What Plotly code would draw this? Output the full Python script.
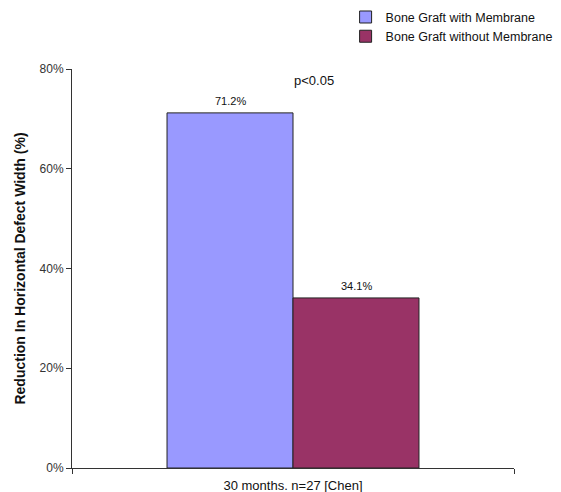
import plotly.graph_objects as go

categories = ["30 months. n=27 [Chen]"]
series_names = ["Bone Graft with Membrane", "Bone Graft without Membrane"]
with_membrane = [71.2]
without_membrane = [34.1]
tick_vals = [0, 20, 40, 60, 80]
tick_text = ["0%", "20%", "40%", "60%", "80%"]
colors = ["#9999FF", "#993366"]

fig = go.Figure()
series = [with_membrane, without_membrane]
for name, vals, col in zip(series_names, series, colors):
    fig.add_trace(go.Bar(
        x=categories, y=vals, name=name,
        marker=dict(color=col, line=dict(color="#222222", width=1)),
    ))

# value labels above bars
bar_px = 126
for i, vals in enumerate(series):
    shift = (i - 0.5) * bar_px
    for c, v in zip(categories, vals):
        fig.add_annotation(x=c, y=v, xref="x", yref="y", text=f"{v:.1f}%",
                           showarrow=False, xshift=shift, yshift=12,
                           xanchor="center", yanchor="middle",
                           font=dict(family="Liberation Sans, Arial", size=11, color="#111111"))

fig.add_annotation(x=0.547, y=1.0, xref="paper", yref="paper", text="p<0.05",
                   showarrow=False, xanchor="center", yanchor="middle", yshift=-11,
                   font=dict(family="Liberation Sans, Arial", size=13, color="#111111"))

fig.update_layout(
    width=561, height=492,
    margin=dict(l=72, r=47, t=69, b=24, autoexpand=False),
    paper_bgcolor="white", plot_bgcolor="white",
    barmode="group", bargap=0.43, bargroupgap=0,
    font=dict(family="Liberation Sans, Arial", size=12, color="#222222"),
    showlegend=True,
    legend=dict(x=0.619, y=1.167, xanchor="left", yanchor="top",
                font=dict(size=12.5, color="#111111"), bgcolor="rgba(0,0,0,0)",
                itemwidth=30, tracegroupgap=0),
    yaxis=dict(range=[0, 80], tickvals=tick_vals, ticktext=tick_text,
               showline=True, linecolor="#333333", linewidth=1,
               ticks="outside", ticklen=5, tickcolor="#333333",
               showgrid=False, zeroline=False, automargin=False,
               tickfont=dict(size=12, color="#333333"),
               title=dict(text="<b>Reduction In Horizontal Defect Width (%)</b>",
                          font=dict(size=14, color="#111111"), standoff=10)),
    xaxis=dict(showline=True, linecolor="#333333", linewidth=1,
               ticks="outside", tickson="boundaries", ticklen=5, tickcolor="#333333",
               showgrid=False, automargin=False, ticklabelstandoff=5,
               tickfont=dict(size=13, color="#111111")),
)

fig.write_html("out.html")
